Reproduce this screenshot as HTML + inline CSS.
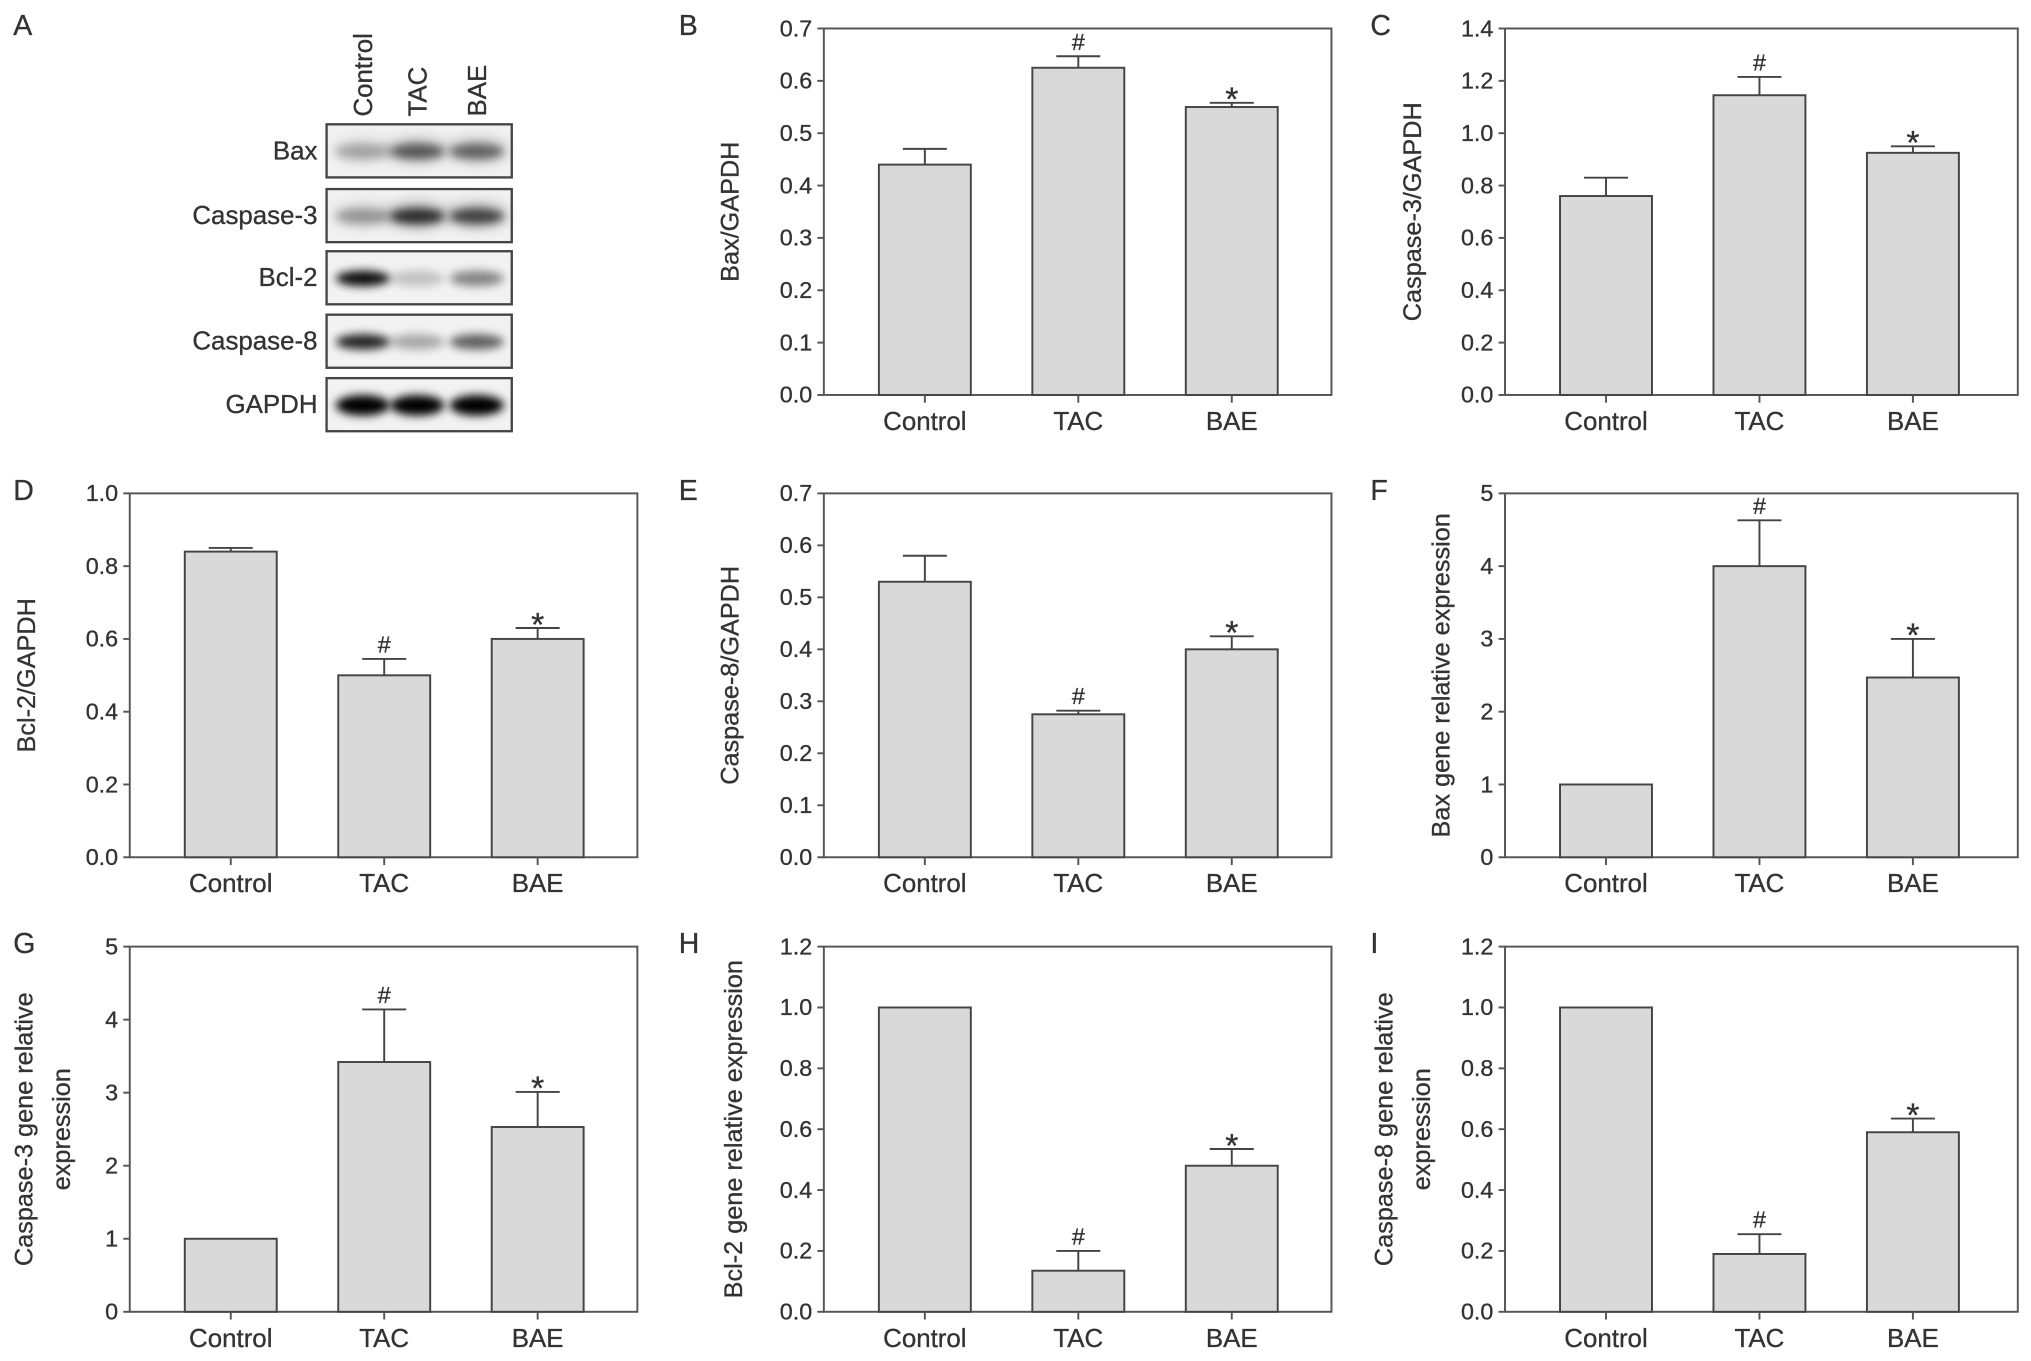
<!DOCTYPE html>
<html><head><meta charset="utf-8">
<style>
html,body{margin:0;padding:0;background:#fff;}
svg{display:block;}
text{font-family:"Liberation Sans",Arial,sans-serif;fill:#333;stroke:#333;stroke-width:0.25;}
</style></head>
<body>
<svg id="fig" width="2031" height="1361" viewBox="0 0 1568 1051" xmlns="http://www.w3.org/2000/svg">
<defs>
<filter id="blur" x="-50%" y="-100%" width="200%" height="300%"><feGaussianBlur stdDeviation="3.5"/></filter>
<filter id="blur2" x="-50%" y="-100%" width="200%" height="300%"><feGaussianBlur stdDeviation="6"/></filter>
</defs>
<g id="blot"></g>
<g id="charts"></g>
</svg>
<script>
const NS="http://www.w3.org/2000/svg";
const categories=["Control","TAC","BAE"];
// panel B
const bVals=[0.44,0.625,0.55]; const bErr=[0.03,0.022,0.008];
const bTicks=["0.0","0.1","0.2","0.3","0.4","0.5","0.6","0.7"];
// panel C
const cVals=[0.76,1.145,0.925]; const cErr=[0.07,0.07,0.025];
const cTicks=["0.0","0.2","0.4","0.6","0.8","1.0","1.2","1.4"];
// panel D
const dVals=[0.84,0.50,0.60]; const dErr=[0.01,0.045,0.03];
const dTicks=["0.0","0.2","0.4","0.6","0.8","1.0"];
// panel E
const eVals=[0.53,0.275,0.40]; const eErr=[0.05,0.007,0.025];
const eTicks=["0.0","0.1","0.2","0.3","0.4","0.5","0.6","0.7"];
// panel F
const fVals=[1.0,4.0,2.47]; const fErr=[0,0.63,0.53];
const fTicks=["0","1","2","3","4","5"];
// panel G
const gVals=[1.0,3.42,2.53]; const gErr=[0,0.72,0.48];
const gTicks=["0","1","2","3","4","5"];
// panel H
const hVals=[1.0,0.135,0.48]; const hErr=[0,0.065,0.055];
const hTicks=["0.0","0.2","0.4","0.6","0.8","1.0","1.2"];
// panel I
const iVals=[1.0,0.19,0.59]; const iErr=[0,0.065,0.045];
const iTicks=["0.0","0.2","0.4","0.6","0.8","1.0","1.2"];
const marks=["","#","*"];

function mk(tag,attrs,parent,txt){const e=document.createElementNS(NS,tag);for(const k in attrs)e.setAttribute(k,attrs[k]);if(txt!==undefined)e.textContent=txt;parent.appendChild(e);return e;}

const charts=document.getElementById('charts');
function panel(id,letter,box,vals,errs,ticks,ylab){
  const g=mk('g',{},charts);
  
  
  const [x0,y0,x1,y1]=box;
  const ymax=parseFloat(ticks[ticks.length-1]);
  const ys=v=>y1-(v/ymax)*(y1-y0);
  const off=78, step=118.5, bw=71;
  const xs=i=>x0+off+i*step;
  const L=mk('text',{x:letter.x,y:letter.y,'font-size':22},g,letter.t);
  
  
  const frame=mk('rect',{x:x0,y:y0,width:x1-x0,height:y1-y0,fill:'none',stroke:'#555','stroke-width':1.5},g);
  
  
  ticks.forEach(t=>{
    const v=parseFloat(t),y=ys(v);
    mk('line',{x1:x0-5,x2:x0,y1:y,y2:y,stroke:'#555','stroke-width':1.5},g);
    const tl=mk('text',{x:x0-9,y:y+6,'font-size':18,'text-anchor':'end'},g,t);
    
    
  });
  vals.forEach((v,i)=>{
    const cx=xs(i),top=ys(v);
    const b=mk('rect',{x:cx-bw/2,y:top,width:bw,height:y1-top,fill:'#d9d9d9',stroke:'#444','stroke-width':1.5},g);
    
    
    if(errs[i]>0){
      const et=ys(v+errs[i]);
      const e1=mk('line',{x1:cx,x2:cx,y1:top,y2:et,stroke:'#444','stroke-width':1.5},g);
      
      
      mk('line',{x1:cx-17,x2:cx+17,y1:et,y2:et,stroke:'#444','stroke-width':1.5},g);
    }
    if(marks[i]){
      const my=ys(v+errs[i])-5;
      const m=mk('text',{x:cx,y:marks[i]==='*'?my+11:my,'font-size':marks[i]==='*'?26:18,'text-anchor':'middle'},g,marks[i]);
      
      
    }
    mk('line',{x1:cx,x2:cx,y1:y1,y2:y1+6,stroke:'#555','stroke-width':1.5},g);
    const cl=mk('text',{x:cx,y:y1+27,'font-size':20,'text-anchor':'middle'},g,categories[i]);
    
    
  });
  const my=(y0+y1)/2;
  ylab.lines.forEach((ln,k)=>{
    const lx=ylab.x+k*29;
    const t=mk('text',{x:lx,y:my,'font-size':19.5,'text-anchor':'middle',transform:`rotate(-90 ${lx} ${my})`},g,ln);
    
    
  });
}
panel('b',{t:'B',x:524,y:27},[636,22,1028,305],bVals,bErr,bTicks,{x:570,lines:['Bax/GAPDH']});
panel('c',{t:'C',x:1058,y:27},[1162,22,1558,305],cVals,cErr,cTicks,{x:1097,lines:['Caspase-3/GAPDH']});
panel('d',{t:'D',x:10,y:386},[100,381,492,662],dVals,dErr,dTicks,{x:27,lines:['Bcl-2/GAPDH']});
panel('e',{t:'E',x:524,y:386},[636,381,1028,662],eVals,eErr,eTicks,{x:570,lines:['Caspase-8/GAPDH']});
panel('f',{t:'F',x:1058,y:386},[1162,381,1558,662],fVals,fErr,fTicks,{x:1119,lines:['Bax gene relative expression']});
panel('g',{t:'G',x:10,y:736},[100,731,492,1013],gVals,gErr,gTicks,{x:25,lines:['Caspase-3 gene relative','expression']});
panel('h',{t:'H',x:524,y:736},[636,731,1028,1013],hVals,hErr,hTicks,{x:573,lines:['Bcl-2 gene relative expression']});
panel('i',{t:'I',x:1058,y:736},[1162,731,1558,1013],iVals,iErr,iTicks,{x:1075,lines:['Caspase-8 gene relative','expression']});

// Western blot
const blot=document.getElementById('blot');
const blotRows=["Bax","Caspase-3","Bcl-2","Caspase-8","GAPDH"];
const blotTop=[96,146,194,243,292];
const bandDark=[[0.25,0.55,0.5],[0.3,0.75,0.65],[0.95,0.2,0.45],[0.85,0.3,0.6],[1,1,1]];
const lanes=[280,322,368];
mk('text',{x:10,y:27,'font-size':22},blot,'A');
categories.forEach((c,i)=>{
  const t=mk('text',{x:lanes[i]+7,y:90,'font-size':20,transform:`rotate(-90 ${lanes[i]+7} 90)`},blot,c);
  
  
});
blotRows.forEach((r,k)=>{
  const y=blotTop[k];
  const g=mk('g',{},blot);
  
  
  mk('rect',{x:252,y:y,width:143,height:41,fill:'#f2f2f2'},g);
  lanes.forEach((lx,i)=>{
    const d=bandDark[k][i];
    mk('ellipse',{cx:lx,cy:y+21,rx:21,ry:k===4?8:6,fill:'#000',opacity:d,filter:'url(#blur)'},g);
    if(k<2) mk('ellipse',{cx:lx,cy:y+20,rx:24,ry:9,fill:'#000',opacity:d*0.4,filter:'url(#blur2)'},g);
  });
  mk('rect',{x:252,y:y,width:143,height:41,fill:'none',stroke:'#444','stroke-width':1.8},g);
  const t=mk('text',{x:245,y:y+27,'font-size':20,'text-anchor':'end'},g,r);
  
  
});
</script>
</body></html>
